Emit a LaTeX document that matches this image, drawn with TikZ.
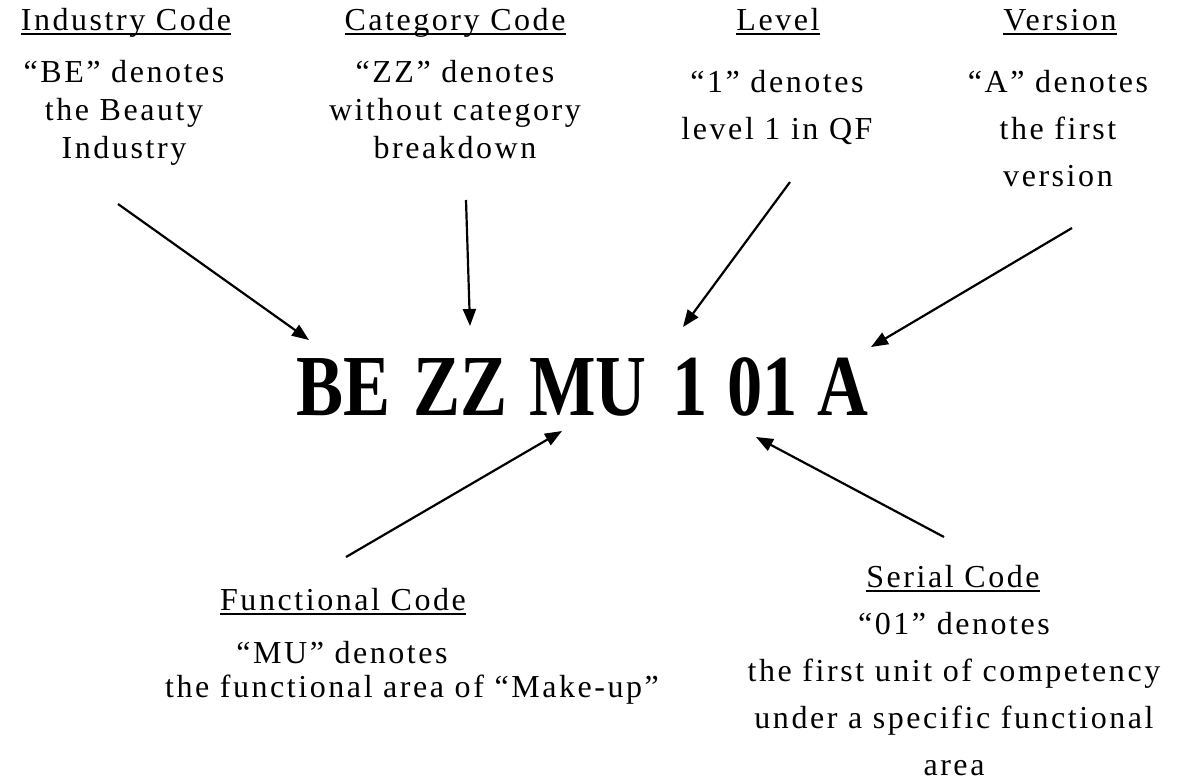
\documentclass[tikz,border=0pt]{standalone}
\usepackage{graphicx}
\usepackage{fontspec}
\setmainfont{Liberation Serif}
\newfontfamily\spacedfont[LetterSpace=8]{Liberation Serif}
\usepackage{tikz}
\usetikzlibrary{arrows.meta}
\newcommand\headul[1]{\setbox0\hbox{#1}\rlap{\vrule height -3pt depth 5pt width \wd0}\box0}

\begin{document}
\begin{tikzpicture}[x=1pt, y=-1pt,
		txt/.style={font=\spacedfont\fontsize{32}{38}\selectfont, anchor=base, inner sep=0pt},
		code/.style={font=\bfseries\fontsize{87}{96}\selectfont, anchor=base west, inner sep=0pt},
		pointer/.style={-{Triangle[length=17pt, width=13pt]}, line width=2.2pt}]
		\useasboundingbox (0,0) rectangle (1189,782);
		% headings
		\node[txt] (ind) at (126,30) {\headul{Industry Code}};
		\node[txt] (cat) at (455,30) {\headul{Category Code}};
		\node[txt] (lev) at (778,30) {\headul{Level}};
		\node[txt] (ver) at (1060,30) {\headul{Version}};
		\node[txt] (fun) at (343,610) {\headul{Functional Code}};
		\node[txt] (ser) at (953,587) {\headul{Serial Code}};
		% what each part means
		\foreach \t [count=\i] in {“BE” denotes, the Beauty, Industry}
			\node[txt] (ind-\i) at (124,44+38*\i) {\t};
		\foreach \t [count=\i] in {“ZZ” denotes, without category, breakdown}
			\node[txt] (cat-\i) at (455,44+38*\i) {\t};
		\foreach \t [count=\i] in {“1” denotes, level 1 in QF}
			\node[txt] (lev-\i) at (777,45+47*\i) {\t};
		\foreach \t [count=\i] in {“A” denotes, the first, version}
			\node[txt] (ver-\i) at (1058,45+47*\i) {\t};
		\node[txt] (fun-1) at (342,663) {“MU” denotes};
		\node[txt] (fun-2) at (412,697) {the functional area of “Make-up”};
		\foreach \t [count=\i] in {“01” denotes, the first unit of competency, under a specific functional, area}
			\node[txt] (ser-\i) at (954,587+47*\i) {\t};
		% the code itself
		\node[code] (be) at (296,415) {\scalebox{0.81}[1]{BE}};
		\node[code] (zz) at (413,415) {\scalebox{0.81}[1]{ZZ}};
		\node[code] (mu) at (529,415) {\scalebox{0.81}[1]{MU}};
		\node[code] (one) at (672,415) {\scalebox{0.81}[1]{1}};
		\node[code] (zo) at (727,415) {\scalebox{0.81}[1]{01}};
		\node[code] (a) at (817,415) {\scalebox{0.81}[1]{A}};
		% arrows
		\coordinate (ind-s) at (118,204);
		\coordinate (be-t) at (309,340);
		\coordinate (cat-s) at (466,200);
		\coordinate (zz-t) at (470,326);
		\coordinate (lev-s) at (790,182);
		\coordinate (one-t) at (683,327);
		\coordinate (ver-s) at (1072,228);
		\coordinate (a-t) at (871,347);
		\coordinate (fun-s) at (346,557);
		\coordinate (mu-t) at (562,431);
		\coordinate (ser-s) at (944,537);
		\coordinate (zo-t) at (756,437);
		\draw[pointer] (ind-s) -- (be-t);
		\draw[pointer] (cat-s) -- (zz-t);
		\draw[pointer] (lev-s) -- (one-t);
		\draw[pointer] (ver-s) -- (a-t);
		\draw[pointer] (fun-s) -- (mu-t);
		\draw[pointer] (ser-s) -- (zo-t);
\end{tikzpicture}
\end{document}
